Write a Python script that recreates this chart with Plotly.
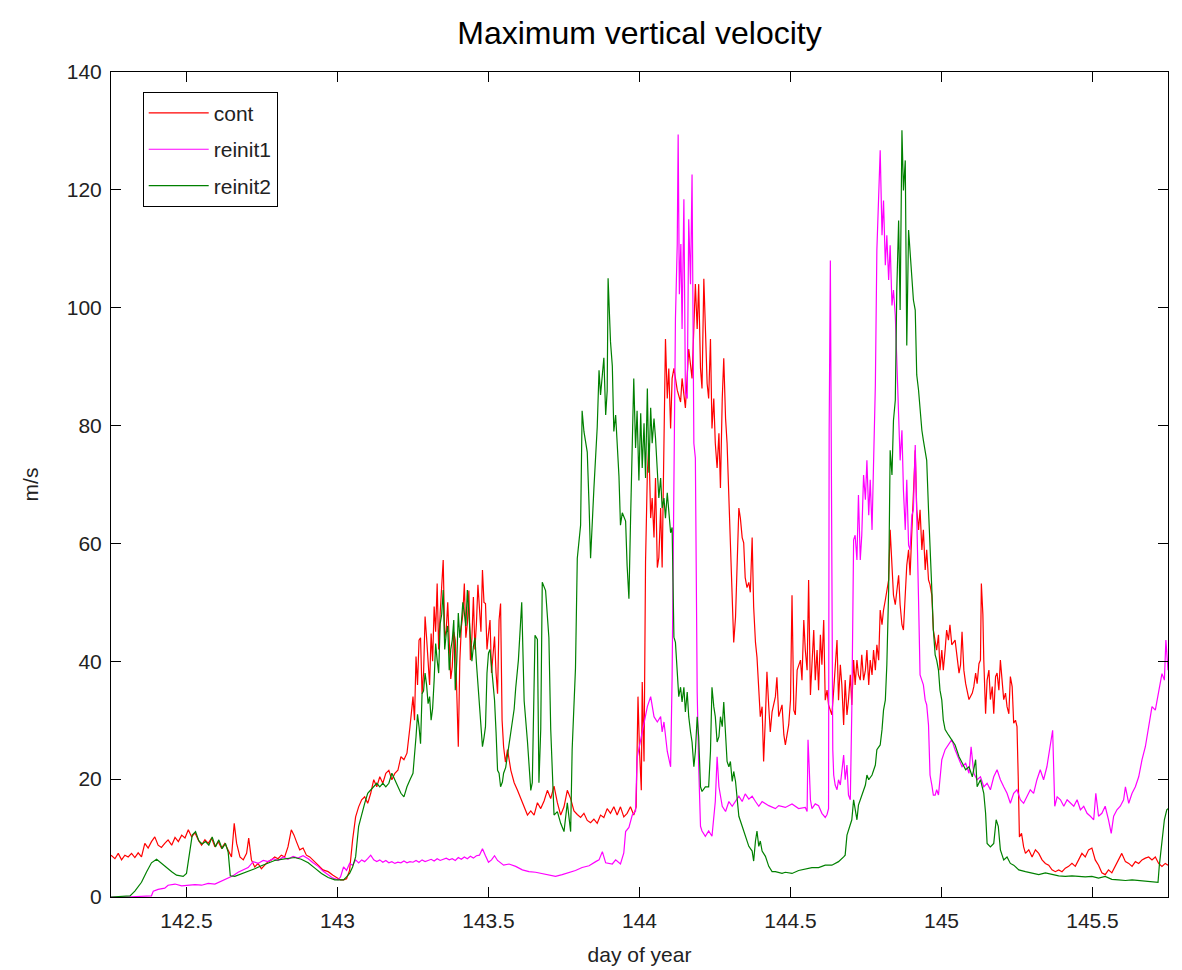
import plotly.graph_objects as go

# Maximum vertical velocity (m/s) against day of year, one list of
# (day, value) samples per model run.
cont = [
    (142.250, 7.1), (142.263, 6.5), (142.274, 7.4), (142.285, 6.3), (142.296, 7.1),
    (142.307, 6.8), (142.318, 7.4), (142.329, 6.7), (142.340, 7.5), (142.351, 6.8),
    (142.362, 9.1), (142.373, 8.3), (142.384, 9.4), (142.395, 10.2), (142.406, 8.8),
    (142.417, 8.4), (142.428, 9.1), (142.439, 9.7), (142.451, 8.8), (142.462, 10.1),
    (142.473, 9.4), (142.484, 10.5), (142.495, 10.0), (142.506, 11.4), (142.517, 10.2),
    (142.528, 10.9), (142.539, 9.7), (142.550, 8.8), (142.561, 9.7), (142.572, 9.1),
    (142.583, 10.0), (142.594, 8.5), (142.605, 9.4), (142.616, 8.3), (142.627, 9.1),
    (142.638, 8.0), (142.649, 6.8), (142.658, 12.5), (142.666, 9.1), (142.677, 6.8),
    (142.688, 6.3), (142.699, 7.4), (142.706, 10.0), (142.715, 6.3), (142.726, 5.1),
    (142.737, 5.7), (142.748, 4.8), (142.759, 5.4), (142.770, 6.0), (142.781, 6.3),
    (142.792, 6.8), (142.803, 6.5), (142.814, 7.1), (142.825, 6.8), (142.836, 8.5),
    (142.847, 11.4), (142.856, 10.5), (142.864, 9.4), (142.875, 8.0), (142.886, 8.3),
    (142.897, 7.1), (142.908, 6.8), (142.919, 6.3), (142.936, 5.4), (142.952, 4.6),
    (142.969, 4.3), (142.985, 3.7), (143.002, 3.2),
    (143.010, 2.9), (143.020, 2.9), (143.030, 3.1), (143.040, 4.5), (143.050, 9.7),
    (143.060, 13.6), (143.070, 15.3), (143.080, 16.5), (143.090, 17.0), (143.100, 15.9),
    (143.110, 17.6), (143.120, 19.9), (143.130, 18.7), (143.140, 20.4), (143.150, 19.3),
    (143.160, 21.0), (143.170, 21.5), (143.180, 19.9), (143.190, 21.0), (143.200, 21.5),
    (143.210, 23.8), (143.220, 23.3), (143.230, 24.4), (143.240, 28.9), (143.250, 34.0),
    (143.255, 30.0), (143.260, 40.8), (143.265, 36.0), (143.270, 43.6), (143.275, 44.0),
    (143.280, 34.5), (143.285, 38.0), (143.290, 47.6), (143.295, 44.0), (143.300, 39.1),
    (143.305, 36.0), (143.310, 44.7), (143.315, 40.0), (143.320, 49.3), (143.325, 45.0),
    (143.330, 53.2), (143.335, 42.0), (143.340, 48.2), (143.345, 53.0), (143.350, 57.2),
    (143.355, 44.0), (143.360, 45.3), (143.365, 50.0), (143.370, 41.9), (143.375, 37.0),
    (143.380, 39.1), (143.385, 45.0), (143.390, 43.6), (143.395, 36.0), (143.400, 25.5),
    (143.405, 40.0), (143.410, 45.8), (143.415, 48.0), (143.420, 53.2), (143.425, 44.0),
    (143.430, 46.4), (143.435, 52.0), (143.440, 40.2), (143.445, 44.0), (143.450, 50.9),
    (143.455, 42.0), (143.460, 46.4), (143.465, 53.0), (143.470, 49.3), (143.475, 45.0),
    (143.480, 55.5), (143.485, 50.0), (143.490, 49.8), (143.495, 42.0), (143.500, 44.7),
    (143.505, 47.0), (143.510, 38.0), (143.515, 42.0), (143.520, 44.2), (143.525, 38.0),
    (143.530, 34.5), (143.535, 47.0), (143.540, 49.8), (143.545, 30.0), (143.550, 25.5),
    (143.556, 22.9), (143.563, 25.0), (143.574, 21.5), (143.585, 19.4), (143.596, 18.1),
    (143.607, 16.7), (143.618, 15.3), (143.629, 13.9), (143.640, 14.6), (143.651, 13.9),
    (143.662, 16.0), (143.673, 15.0), (143.684, 16.3), (143.695, 18.1), (143.706, 16.7),
    (143.717, 18.8), (143.728, 16.0), (143.739, 13.9), (143.750, 15.3), (143.761, 18.1),
    (143.772, 16.7), (143.783, 14.6), (143.794, 14.0), (143.805, 13.5), (143.816, 14.2),
    (143.827, 13.0), (143.838, 12.6), (143.849, 13.2), (143.860, 12.5), (143.871, 13.9),
    (143.882, 13.5), (143.893, 15.0), (143.904, 14.2), (143.915, 15.3), (143.926, 13.9),
    (143.937, 15.3), (143.948, 13.6), (143.959, 14.2), (143.970, 15.3), (143.981, 13.9),
    (143.989, 15.3), (143.995, 34.0), (144.000, 25.0), (144.006, 18.1),
    (144.009, 36.5), (144.015, 23.0), (144.020, 56.8), (144.026, 72.0), (144.031, 77.0),
    (144.037, 64.3), (144.042, 67.7), (144.048, 61.0), (144.053, 71.1), (144.059, 55.9),
    (144.064, 57.6), (144.070, 66.0), (144.075, 55.9), (144.081, 81.2), (144.086, 94.7),
    (144.092, 84.6), (144.097, 89.7), (144.103, 79.5), (144.108, 88.0), (144.114, 89.7),
    (144.125, 86.0), (144.136, 84.0), (144.141, 88.0), (144.152, 83.0), (144.163, 93.0),
    (144.174, 88.0), (144.185, 104.0), (144.191, 96.4), (144.196, 104.0), (144.202, 89.7),
    (144.207, 86.3), (144.213, 104.9), (144.218, 98.1), (144.224, 87.1), (144.229, 84.6),
    (144.235, 94.7), (144.240, 79.5), (144.246, 84.6), (144.251, 77.0), (144.257, 72.8),
    (144.263, 78.7), (144.268, 69.4), (144.274, 84.6), (144.279, 91.4), (144.285, 81.2),
    (144.290, 77.0), (144.296, 67.7), (144.301, 60.1), (144.307, 48.3), (144.312, 43.2),
    (144.318, 47.5), (144.323, 57.6), (144.329, 66.0), (144.334, 64.3), (144.340, 61.0),
    (144.345, 60.1), (144.350, 54.2), (144.356, 52.5), (144.362, 53.4), (144.367, 51.7),
    (144.373, 61.0), (144.378, 49.2), (144.384, 43.2), (144.389, 40.7), (144.395, 34.8),
    (144.400, 30.6), (144.406, 32.3), (144.411, 23.0), (144.417, 30.6), (144.422, 38.2),
    (144.428, 32.3), (144.433, 28.0), (144.439, 31.4), (144.450, 34.0), (144.455, 37.3),
    (144.461, 30.6), (144.472, 32.6), (144.478, 27.5), (144.483, 25.8), (144.489, 27.5),
    (144.494, 29.2), (144.500, 33.4), (144.505, 51.2), (144.511, 31.7), (144.516, 30.9),
    (144.522, 38.5), (144.527, 39.4), (144.533, 40.2), (144.538, 36.8), (144.544, 47.0),
    (144.549, 41.9), (144.555, 38.5), (144.560, 53.8), (144.566, 34.3), (144.571, 39.4),
    (144.577, 45.3), (144.582, 36.8), (144.588, 41.9), (144.593, 35.1), (144.599, 44.5),
    (144.604, 39.4), (144.610, 47.0), (144.615, 33.4), (144.621, 35.1), (144.626, 32.6),
    (144.632, 31.7), (144.637, 30.9), (144.643, 35.1), (144.648, 38.5), (144.654, 43.6),
    (144.659, 33.4), (144.665, 39.4), (144.670, 36.0), (144.676, 29.2), (144.681, 36.8),
    (144.687, 30.9), (144.692, 33.4), (144.698, 37.7), (144.703, 32.6), (144.709, 40.2),
    (144.714, 36.0), (144.720, 40.2), (144.725, 37.7), (144.731, 36.8), (144.736, 41.1),
    (144.742, 36.8), (144.748, 38.5), (144.753, 41.9), (144.759, 36.0), (144.764, 40.2),
    (144.770, 37.7), (144.775, 41.9), (144.781, 38.5), (144.786, 42.8), (144.792, 40.2),
    (144.797, 48.7), (144.803, 46.2), (144.808, 48.7), (144.814, 50.4), (144.819, 52.1),
    (144.825, 53.8), (144.830, 62.3), (144.836, 54.6), (144.841, 51.2), (144.847, 49.6),
    (144.852, 52.1), (144.858, 54.6), (144.863, 49.6), (144.869, 46.2), (144.874, 45.3),
    (144.880, 51.2), (144.885, 56.3), (144.891, 58.9), (144.896, 54.6), (144.902, 62.3),
    (144.907, 69.0), (144.913, 75.8), (144.918, 65.7), (144.924, 62.3), (144.929, 65.7),
    (144.935, 58.9), (144.940, 62.3), (144.946, 55.5), (144.951, 58.9), (144.957, 53.8),
    (144.962, 53.0), (144.968, 51.2), (144.973, 45.3), (144.979, 43.6), (144.984, 41.9),
    (144.990, 44.5), (144.995, 38.5), (145.001, 41.9), (145.006, 38.5), (145.012, 41.9),
    (145.017, 45.3), (145.023, 43.6), (145.028, 46.2), (145.034, 42.8), (145.045, 43.6),
    (145.058, 38.0), (145.063, 39.4), (145.068, 45.0), (145.074, 38.5), (145.080, 36.2),
    (145.091, 33.5), (145.102, 34.6), (145.107, 35.7), (145.113, 38.0), (145.118, 36.2),
    (145.124, 39.6), (145.129, 40.2), (145.132, 53.2), (145.137, 48.0), (145.140, 40.2),
    (145.146, 31.1), (145.151, 36.8), (145.157, 38.5), (145.162, 33.5), (145.168, 35.7),
    (145.173, 31.1), (145.179, 37.4), (145.184, 38.0), (145.190, 35.1), (145.195, 40.2),
    (145.201, 35.7), (145.206, 33.5), (145.212, 34.6), (145.217, 32.3), (145.223, 31.1),
    (145.228, 37.4), (145.234, 35.7), (145.239, 29.5), (145.245, 30.0), (145.250, 28.9),
    (145.254, 20.4), (145.258, 10.2), (145.265, 10.8), (145.272, 8.5), (145.278, 7.4),
    (145.289, 8.0), (145.300, 6.8), (145.311, 8.0), (145.322, 7.4), (145.333, 6.3),
    (145.344, 5.7), (145.355, 5.4), (145.366, 4.6), (145.377, 4.3), (145.388, 4.6),
    (145.399, 4.3), (145.410, 4.9), (145.421, 5.2), (145.432, 5.7), (145.443, 5.2),
    (145.454, 6.3), (145.465, 7.4), (145.476, 6.8), (145.487, 8.0), (145.498, 8.3),
    (145.504, 7.4), (145.509, 6.3), (145.520, 5.4), (145.531, 4.1), (145.542, 3.8),
    (145.553, 4.6), (145.564, 4.1), (145.575, 5.2), (145.586, 6.3), (145.597, 7.4),
    (145.609, 6.0), (145.620, 5.7), (145.631, 5.2), (145.642, 6.0), (145.653, 5.7),
    (145.664, 6.3), (145.675, 6.6), (145.686, 6.8), (145.697, 6.3), (145.708, 6.8),
    (145.719, 5.7), (145.730, 5.2), (145.741, 5.7), (145.750, 5.4),
]

reinit1 = [
    (142.250, 0.0), (142.300, 0.0), (142.384, 0.2), (142.390, 1.0), (142.406, 1.3),
    (142.428, 1.5), (142.439, 2.0), (142.462, 2.2), (142.484, 1.9), (142.506, 2.0),
    (142.528, 2.1), (142.550, 2.0), (142.572, 2.3), (142.594, 2.2), (142.616, 2.7),
    (142.638, 3.2), (142.654, 3.6), (142.671, 4.2), (142.688, 4.6), (142.704, 5.0),
    (142.721, 6.0), (142.737, 5.7), (142.754, 6.2), (142.770, 6.0), (142.787, 6.5),
    (142.803, 6.2), (142.820, 6.8), (142.836, 6.4), (142.853, 6.9), (142.869, 6.6),
    (142.886, 7.0), (142.903, 6.5), (142.919, 5.8), (142.936, 5.2), (142.952, 4.4),
    (142.969, 3.8), (142.985, 3.2), (143.002, 2.9), (143.010, 3.4), (143.020, 5.1),
    (143.030, 4.5), (143.040, 5.7), (143.050, 5.4), (143.060, 6.3), (143.070, 5.8),
    (143.080, 6.3), (143.090, 6.0), (143.100, 6.5), (143.110, 7.1), (143.120, 6.3),
    (143.130, 6.0), (143.140, 6.3), (143.150, 5.9), (143.160, 6.2), (143.170, 5.8),
    (143.180, 6.0), (143.190, 5.7), (143.200, 5.9), (143.210, 5.8), (143.220, 6.1),
    (143.230, 5.8), (143.240, 6.0), (143.250, 5.9), (143.260, 6.2), (143.270, 5.9),
    (143.280, 6.3), (143.290, 6.0), (143.300, 6.2), (143.310, 6.4), (143.320, 6.1),
    (143.330, 6.5), (143.340, 6.2), (143.350, 6.4), (143.360, 6.6), (143.370, 6.3),
    (143.380, 6.5), (143.390, 6.2), (143.400, 6.7), (143.410, 6.4), (143.420, 6.8),
    (143.430, 6.5), (143.440, 6.9), (143.450, 6.6), (143.460, 7.0), (143.470, 7.1),
    (143.480, 8.2), (143.490, 7.0), (143.500, 5.9), (143.510, 6.3), (143.520, 7.0),
    (143.530, 6.2), (143.540, 5.8), (143.550, 5.4), (143.568, 5.6), (143.590, 5.2),
    (143.612, 4.6), (143.634, 4.3), (143.656, 4.2), (143.678, 4.0), (143.700, 3.7),
    (143.722, 3.5), (143.744, 3.8), (143.766, 4.1), (143.788, 4.5), (143.810, 5.0),
    (143.833, 5.3), (143.855, 6.0), (143.866, 6.3), (143.877, 7.7), (143.888, 5.8),
    (143.910, 5.6), (143.921, 6.3), (143.937, 5.6), (143.948, 7.5), (143.954, 11.1),
    (143.965, 11.8), (143.976, 13.9), (143.987, 14.6), (143.992, 23.6), (144.003, 26.4),
    (144.014, 29.8), (144.026, 32.3), (144.037, 34.0), (144.048, 30.6), (144.059, 29.7),
    (144.070, 30.6), (144.075, 28.0), (144.081, 29.7), (144.092, 24.7), (144.103, 22.1),
    (144.108, 37.3), (144.114, 66.0), (144.119, 98.1), (144.125, 110.8), (144.128, 129.4),
    (144.132, 102.3), (144.137, 110.8), (144.141, 96.4), (144.147, 118.4), (144.152, 85.5),
    (144.158, 84.6), (144.163, 115.0), (144.169, 104.0), (144.174, 122.6), (144.180, 77.0),
    (144.185, 74.5), (144.191, 34.8), (144.196, 22.1), (144.202, 12.0), (144.207, 11.2),
    (144.218, 10.3), (144.229, 11.2), (144.240, 10.3), (144.251, 16.2), (144.257, 23.8),
    (144.263, 18.7), (144.274, 15.4), (144.285, 14.5), (144.296, 16.2), (144.307, 15.4),
    (144.318, 16.2), (144.329, 17.1), (144.340, 16.2), (144.350, 17.5), (144.362, 16.6),
    (144.373, 17.1), (144.384, 16.2), (144.395, 15.4), (144.406, 16.2), (144.428, 15.5),
    (144.450, 15.0), (144.461, 15.5), (144.483, 15.2), (144.505, 15.8), (144.527, 15.0),
    (144.549, 15.2), (144.555, 14.5), (144.558, 26.7), (144.562, 22.0), (144.566, 16.5),
    (144.571, 15.0), (144.582, 15.8), (144.593, 15.5), (144.604, 14.2), (144.615, 13.5),
    (144.621, 14.0), (144.626, 15.0), (144.628, 79.2), (144.632, 108.0), (144.635, 70.0),
    (144.640, 25.0), (144.643, 20.7), (144.648, 19.0), (144.654, 18.2), (144.659, 19.9),
    (144.665, 19.0), (144.670, 21.6), (144.676, 24.1), (144.681, 19.9), (144.687, 22.4),
    (144.692, 17.3), (144.698, 16.5), (144.703, 31.7), (144.709, 60.6), (144.714, 61.4),
    (144.720, 57.2), (144.725, 68.2), (144.731, 57.2), (144.736, 61.4), (144.742, 71.6),
    (144.748, 67.4), (144.753, 74.1), (144.759, 64.8), (144.764, 70.8), (144.770, 62.3),
    (144.775, 74.1), (144.781, 86.9), (144.786, 109.8), (144.792, 121.6), (144.797, 126.7),
    (144.803, 112.3), (144.808, 118.2), (144.814, 107.2), (144.819, 112.3), (144.825, 104.7),
    (144.830, 110.6), (144.836, 100.4), (144.841, 103.0), (144.847, 98.7), (144.852, 91.1),
    (144.858, 80.9), (144.863, 74.1), (144.869, 79.2), (144.874, 69.0), (144.880, 62.3),
    (144.885, 70.8), (144.891, 59.7), (144.896, 58.9), (144.902, 64.8), (144.907, 65.7),
    (144.913, 76.7), (144.918, 61.4), (144.924, 50.4), (144.929, 37.7), (144.935, 36.8),
    (144.940, 36.0), (144.946, 33.4), (144.951, 32.6), (144.957, 29.2), (144.962, 20.7),
    (144.968, 19.0), (144.973, 17.3), (144.979, 17.3), (144.984, 18.2), (144.990, 17.3),
    (144.995, 19.9), (145.001, 23.3), (145.012, 25.0), (145.023, 25.8), (145.034, 26.7),
    (145.045, 25.0), (145.058, 23.3), (145.068, 22.1), (145.080, 22.7), (145.091, 21.0),
    (145.098, 25.5), (145.107, 21.0), (145.118, 19.9), (145.129, 20.4), (145.140, 18.7),
    (145.151, 19.3), (145.162, 18.2), (145.173, 20.4), (145.184, 21.6), (145.195, 19.9),
    (145.206, 18.7), (145.217, 17.6), (145.228, 15.9), (145.239, 17.6), (145.250, 18.2),
    (145.261, 16.5), (145.272, 15.9), (145.283, 17.0), (145.294, 18.2), (145.305, 17.6),
    (145.316, 19.9), (145.327, 21.6), (145.338, 19.9), (145.349, 22.1), (145.360, 25.5),
    (145.368, 28.3), (145.375, 15.4), (145.383, 17.0), (145.394, 16.5), (145.405, 15.4),
    (145.416, 16.5), (145.427, 15.9), (145.438, 15.4), (145.449, 16.5), (145.460, 14.8),
    (145.471, 15.4), (145.482, 14.2), (145.493, 13.7), (145.504, 13.1), (145.511, 17.6),
    (145.520, 13.7), (145.531, 14.2), (145.542, 15.4), (145.553, 13.1), (145.562, 10.8),
    (145.570, 13.7), (145.581, 14.8), (145.592, 15.4), (145.603, 16.5), (145.609, 18.7),
    (145.620, 15.9), (145.631, 17.6), (145.642, 18.7), (145.653, 20.4), (145.664, 23.3),
    (145.675, 25.5), (145.686, 28.9), (145.697, 32.3), (145.708, 31.7), (145.719, 34.6),
    (145.730, 37.9), (145.738, 36.8), (145.743, 43.6), (145.750, 38.5),
]

reinit2 = [
    (142.250, 0.0), (142.313, 0.2), (142.329, 1.0), (142.351, 2.5), (142.368, 4.3),
    (142.384, 5.8), (142.401, 6.4), (142.417, 5.7), (142.434, 5.0), (142.451, 4.3),
    (142.467, 3.7), (142.489, 3.5), (142.500, 4.0), (142.511, 7.5), (142.519, 10.5),
    (142.530, 11.1), (142.541, 9.5), (142.552, 9.0), (142.563, 9.4), (142.574, 8.8),
    (142.585, 10.2), (142.596, 8.5), (142.607, 9.7), (142.618, 8.2), (142.629, 9.1),
    (142.638, 7.6), (142.645, 3.6), (142.660, 3.5), (142.682, 3.9), (142.704, 4.3),
    (142.726, 4.8), (142.748, 5.3), (142.770, 5.7), (142.792, 6.2), (142.814, 6.4),
    (142.836, 6.6), (142.858, 6.7), (142.880, 6.4), (142.903, 5.8), (142.925, 4.9),
    (142.947, 4.0), (142.969, 3.3), (142.991, 2.9), (143.010, 2.9), (143.020, 2.9),
    (143.030, 3.4), (143.040, 4.0), (143.050, 5.1), (143.060, 6.8), (143.070, 12.0),
    (143.080, 14.2), (143.090, 15.9), (143.100, 17.6), (143.110, 18.2), (143.120, 18.7),
    (143.130, 19.3), (143.140, 18.7), (143.150, 19.3), (143.160, 18.7), (143.170, 19.3),
    (143.180, 21.0), (143.190, 19.9), (143.200, 18.7), (143.210, 17.6), (143.220, 17.0),
    (143.230, 18.7), (143.240, 19.9), (143.250, 21.0), (143.260, 27.2), (143.265, 31.0),
    (143.270, 28.9), (143.275, 26.0), (143.280, 34.5), (143.285, 35.0), (143.290, 38.0),
    (143.295, 36.0), (143.300, 32.8), (143.305, 34.0), (143.310, 30.0), (143.315, 32.0),
    (143.320, 36.8), (143.325, 43.0), (143.330, 40.2), (143.335, 38.0), (143.340, 46.4),
    (143.345, 48.0), (143.350, 52.1), (143.355, 42.0), (143.360, 44.7), (143.365, 46.0),
    (143.370, 38.5), (143.375, 42.0), (143.380, 43.6), (143.385, 47.0), (143.390, 35.1),
    (143.395, 40.0), (143.400, 48.2), (143.405, 44.0), (143.410, 46.4), (143.415, 50.0),
    (143.420, 48.2), (143.425, 46.0), (143.430, 52.1), (143.435, 48.0), (143.440, 44.7),
    (143.445, 40.0), (143.450, 42.5), (143.455, 44.0), (143.460, 39.7), (143.465, 36.0),
    (143.470, 33.4), (143.475, 30.0), (143.480, 25.5), (143.485, 27.0), (143.490, 28.9),
    (143.495, 38.0), (143.500, 41.4), (143.505, 42.0), (143.510, 39.1), (143.515, 36.0),
    (143.520, 33.4), (143.525, 28.0), (143.530, 21.5), (143.535, 21.0), (143.540, 18.7),
    (143.546, 19.5), (143.550, 21.0), (143.557, 22.0), (143.568, 26.0), (143.579, 30.0),
    (143.585, 31.9), (143.590, 35.4), (143.599, 40.2), (143.610, 50.0), (143.618, 33.3),
    (143.629, 26.4), (143.640, 18.1), (143.645, 19.4), (143.654, 44.4), (143.662, 43.7),
    (143.667, 19.4), (143.673, 28.5), (143.678, 53.4), (143.689, 52.0), (143.700, 44.0),
    (143.706, 28.5), (143.717, 13.9), (143.728, 14.5), (143.739, 12.5), (143.750, 11.1),
    (143.761, 16.0), (143.772, 11.1), (143.777, 25.0), (143.788, 38.8), (143.794, 57.5),
    (143.805, 63.1), (143.810, 82.5), (143.816, 79.0), (143.827, 75.5), (143.833, 66.5),
    (143.838, 57.5), (143.849, 69.3), (143.860, 79.7), (143.866, 89.4), (143.871, 85.2),
    (143.882, 91.5), (143.888, 81.8), (143.893, 85.9), (143.896, 105.0), (143.904, 94.2),
    (143.910, 90.1), (143.915, 79.0), (143.921, 81.8), (143.932, 71.4), (143.937, 63.1),
    (143.943, 65.2), (143.954, 63.8), (143.959, 56.2), (143.965, 50.6), (143.970, 63.1),
    (143.976, 79.0), (143.981, 88.0), (143.987, 76.2), (143.992, 82.5), (143.998, 70.7),
    (144.004, 82.1), (144.009, 72.8), (144.015, 80.4), (144.020, 71.1), (144.026, 86.3),
    (144.031, 72.0), (144.037, 83.0), (144.042, 77.0), (144.048, 81.2), (144.053, 77.9),
    (144.059, 72.8), (144.064, 67.7), (144.070, 71.1), (144.075, 66.0), (144.081, 67.7),
    (144.086, 64.3), (144.092, 68.6), (144.097, 66.0), (144.103, 61.8), (144.108, 62.7),
    (144.114, 44.1), (144.119, 43.2), (144.125, 38.2), (144.130, 34.0), (144.136, 35.6),
    (144.141, 33.1), (144.147, 35.6), (144.152, 31.4), (144.158, 34.8), (144.163, 30.6),
    (144.169, 28.0), (144.174, 26.3), (144.180, 22.1), (144.185, 24.7), (144.191, 30.6),
    (144.196, 27.2), (144.202, 18.7), (144.207, 17.9), (144.218, 18.7), (144.229, 18.7),
    (144.235, 24.7), (144.240, 35.6), (144.246, 32.3), (144.251, 30.6), (144.257, 26.3),
    (144.263, 27.2), (144.268, 30.6), (144.274, 28.9), (144.279, 33.1), (144.285, 28.0),
    (144.290, 23.0), (144.296, 22.1), (144.301, 23.0), (144.307, 19.6), (144.312, 21.3),
    (144.318, 19.6), (144.323, 16.2), (144.329, 13.7), (144.340, 12.0), (144.350, 10.3),
    (144.362, 8.6), (144.373, 7.8), (144.378, 6.1), (144.384, 9.5), (144.389, 11.2),
    (144.395, 8.6), (144.400, 9.5), (144.406, 7.8), (144.417, 6.9), (144.428, 5.2),
    (144.439, 4.3), (144.450, 4.3), (144.472, 4.0), (144.483, 4.2), (144.505, 4.0),
    (144.527, 4.5), (144.549, 4.8), (144.571, 5.0), (144.593, 5.0), (144.615, 5.4),
    (144.637, 5.4), (144.659, 6.0), (144.676, 6.8), (144.681, 7.1), (144.687, 10.5),
    (144.692, 11.4), (144.703, 13.1), (144.709, 16.5), (144.714, 14.8), (144.720, 13.1),
    (144.725, 15.6), (144.736, 17.3), (144.748, 19.0), (144.753, 20.7), (144.759, 19.9),
    (144.770, 20.7), (144.781, 22.4), (144.786, 25.0), (144.797, 25.8), (144.803, 28.4),
    (144.808, 31.7), (144.814, 33.4), (144.819, 39.4), (144.825, 52.1), (144.830, 75.8),
    (144.836, 71.6), (144.841, 80.9), (144.847, 84.3), (144.852, 103.0), (144.858, 114.8),
    (144.863, 99.6), (144.869, 130.1), (144.874, 119.9), (144.880, 125.0), (144.885, 93.6),
    (144.891, 113.2), (144.896, 109.8), (144.902, 105.5), (144.907, 101.3), (144.913, 99.6),
    (144.918, 88.6), (144.924, 86.0), (144.929, 82.6), (144.935, 79.2), (144.940, 77.5),
    (144.946, 75.8), (144.951, 74.1), (144.957, 65.7), (144.962, 60.6), (144.968, 52.1),
    (144.973, 45.3), (144.979, 41.1), (144.984, 40.2), (144.990, 38.5), (144.995, 35.1),
    (145.001, 33.4), (145.006, 30.0), (145.012, 28.4), (145.023, 27.5), (145.034, 26.7),
    (145.045, 25.8), (145.058, 23.8), (145.068, 22.7), (145.080, 21.6), (145.091, 22.1),
    (145.102, 20.4), (145.113, 23.3), (145.118, 18.7), (145.129, 19.9), (145.140, 17.6),
    (145.146, 14.2), (145.151, 9.1), (145.162, 8.5), (145.173, 9.1), (145.181, 13.1),
    (145.188, 12.0), (145.195, 8.0), (145.206, 6.3), (145.217, 6.8), (145.228, 5.7),
    (145.239, 5.4), (145.256, 4.6), (145.278, 4.3), (145.300, 4.1), (145.322, 3.8),
    (145.344, 4.1), (145.366, 3.8), (145.388, 3.6), (145.410, 3.5), (145.432, 3.6),
    (145.454, 3.5), (145.476, 3.4), (145.498, 3.5), (145.520, 3.2), (145.542, 3.5),
    (145.564, 3.0), (145.586, 2.9), (145.609, 2.8), (145.631, 2.9), (145.653, 2.8),
    (145.675, 2.6), (145.697, 2.5), (145.717, 2.5), (145.721, 5.2), (145.730, 9.1),
    (145.738, 13.1), (145.746, 14.8), (145.750, 15.0),
]

series_names = ["cont", "reinit1", "reinit2"]
series_colors = ["#ff0000", "#ff00ff", "#008000"]

x_tick_values = [142.5, 143, 143.5, 144, 144.5, 145, 145.5]
x_tick_labels = ["142.5", "143", "143.5", "144", "144.5", "145", "145.5"]
y_tick_values = [0, 20, 40, 60, 80, 100, 120, 140]

FONT = "Liberation Sans, Arial, Helvetica, sans-serif"

fig = go.Figure()
for name, color, samples in zip(series_names, series_colors, [cont, reinit1, reinit2]):
    days = [d for d, _ in samples]
    speed = [v for _, v in samples]
    fig.add_trace(go.Scatter(
        x=days, y=speed, mode="lines", name=name,
        legendgroup=name,
        line=dict(color=color, width=1.2),
    ))

axis_common = dict(
    showline=True, linecolor="black", linewidth=1, mirror="ticks",
    ticks="inside", ticklen=10, tickwidth=1, tickcolor="black",
    showgrid=False, zeroline=False, automargin=False,
    tickfont=dict(family=FONT, size=21, color="#222222"),
)

fig.update_xaxes(
    range=[142.25, 145.75], tickvals=x_tick_values, ticktext=x_tick_labels,
    title=dict(text="day of year", font=dict(family=FONT, size=21, color="#222222"), standoff=16),
    ticklabelstandoff=5,
    **axis_common,
)
fig.update_yaxes(
    range=[0, 140], tickvals=y_tick_values,
    title=dict(text="m/s", font=dict(family=FONT, size=21, color="#222222"), standoff=22),
    ticklabelstandoff=4,
    **axis_common,
)

fig.update_layout(
    width=1182, height=970,
    margin=dict(l=111, r=14, t=72, b=73),
    paper_bgcolor="white", plot_bgcolor="white",
    font=dict(family=FONT, size=21, color="#222222"),
    title=dict(
        text="Maximum vertical velocity",
        x=0.5, xref="paper", xanchor="center",
        y=1 - 33 / 970, yref="container", yanchor="middle",
        font=dict(family=FONT, size=32, color="black"),
    ),
    legend=dict(
        x=0.030, y=0.976, xanchor="left", yanchor="top",
        bgcolor="white", bordercolor="black", borderwidth=1,
        font=dict(family=FONT, size=21, color="#222222"),
        traceorder="grouped", tracegroupgap=6,
        itemwidth=60,
    ),
    showlegend=True,
)

fig.write_html("out.html")
